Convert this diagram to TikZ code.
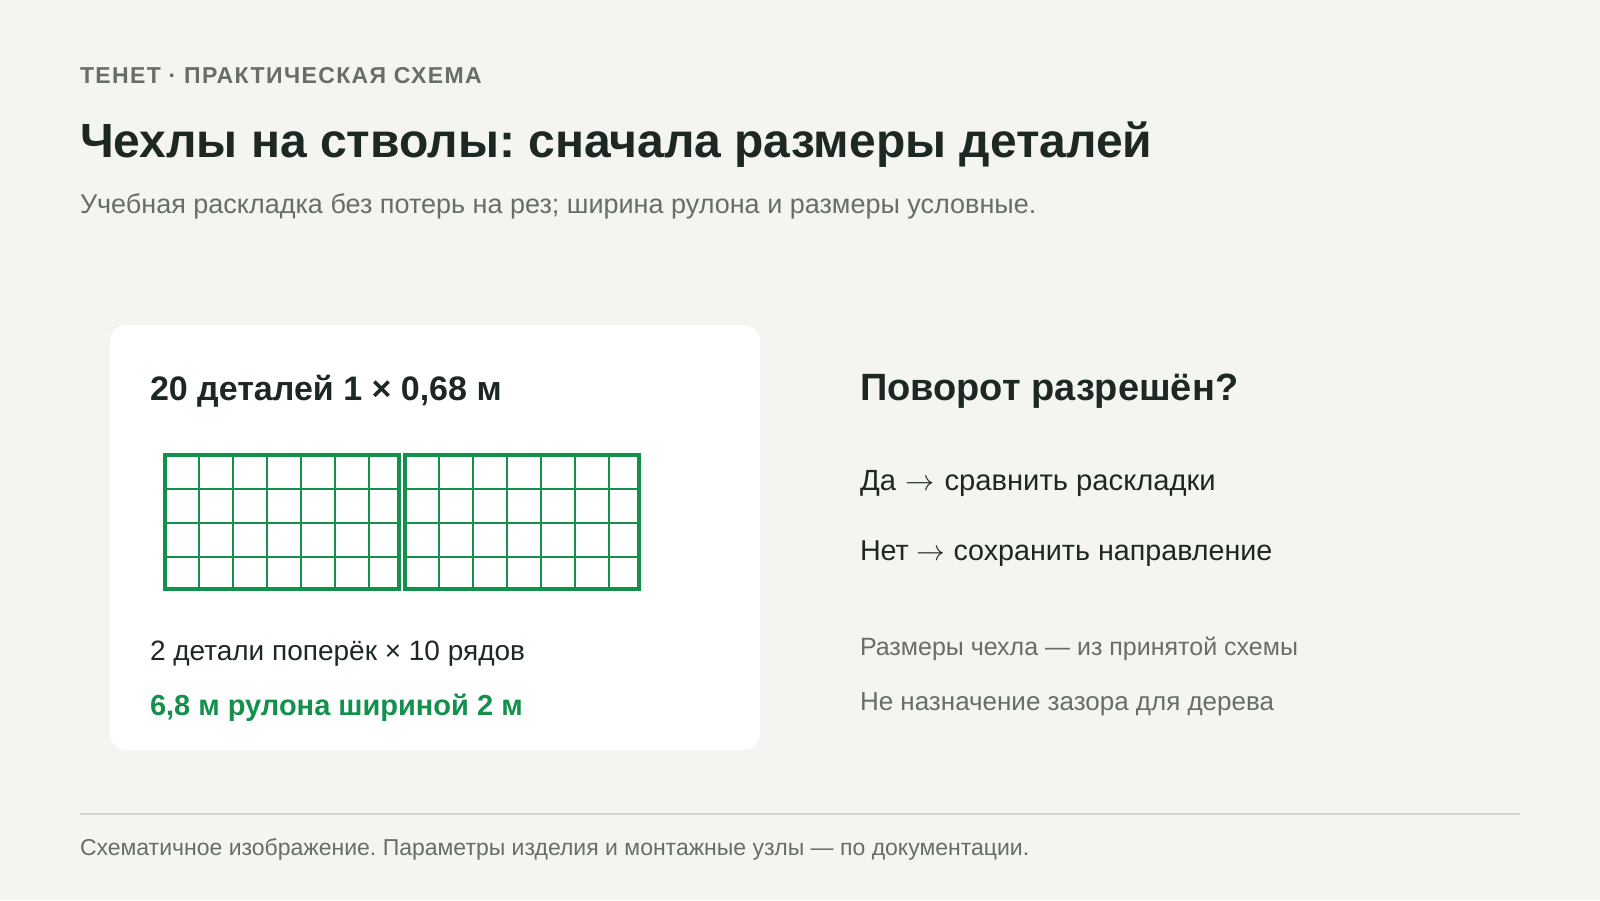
\RequirePackage{fix-cm}
\documentclass[tikz,border=0pt]{standalone}
\usepackage{fontspec}
\setmainfont{Liberation Sans}
\frenchspacing
\definecolor{bgcol}{HTML}{F4F5F0}
\definecolor{darktxt}{HTML}{1E2822}
\definecolor{graytxt}{HTML}{676E66}
\definecolor{lightgray}{HTML}{D3D6CF}
\definecolor{meshgreen}{HTML}{13904B}
\newcommand{\arr}{\ensuremath{\rightarrow}}
\tikzset{
  txt/.style={anchor=base west, inner sep=0pt, outer sep=0pt},
  headerstyle/.style={txt, text=graytxt, font=\bfseries\fontsize{23}{26}\selectfont\addfontfeatures{LetterSpace=6}},
  titlestyle/.style={txt, text=darktxt, font=\bfseries\fontsize{48}{52}\selectfont},
  subtitlestyle/.style={txt, text=graytxt, font=\fontsize{27}{30}\selectfont},
  cardtitle/.style={txt, text=darktxt, font=\bfseries\fontsize{34}{36}\selectfont},
  bodytxt/.style={txt, text=darktxt, font=\fontsize{28}{30}\selectfont},
  greentxt/.style={txt, text=meshgreen, font=\bfseries\fontsize{29}{30}\selectfont},
  qtitle/.style={txt, text=darktxt, font=\bfseries\fontsize{38}{40}\selectfont},
  answer/.style={txt, text=darktxt, font=\fontsize{28.7}{31}\selectfont},
  note/.style={txt, text=graytxt, font=\fontsize{25.5}{27}\selectfont},
  footnote/.style={txt, text=graytxt, font=\fontsize{23}{26}\selectfont},
  cardbox/.style={fill=white, rounded corners=16pt},
  piece/.style={draw=meshgreen, line width=4pt},
  meshline/.style={draw=meshgreen, line width=2.5pt},
}
\begin{document}
\begin{tikzpicture}[x=1pt,y=-1pt]
\fill[bgcol] (0,0) rectangle (1600,900);
\useasboundingbox (0,0) rectangle (1600,900);

% header
\node[headerstyle] (header) at (80,83) {ТЕНЕТ · ПРАКТИЧЕСКАЯ СХЕМА};
\node[titlestyle] (title) at (80,157) {Чехлы на стволы: сначала размеры деталей};
\node[subtitlestyle] (subtitle) at (80,213) {Учебная раскладка без потерь на рез; ширина рулона и размеры условные.};

% card
\fill[cardbox] (110,325) rectangle (760,750);
\node[cardtitle] (ctitle) at (150,400) {20 деталей 1 × 0,68 м};

% mesh pieces
\foreach \x in {165,405}{
  \foreach \k in {1,...,6}{
    \draw[meshline] (\x+34*\k,455) -- (\x+34*\k,589);
  }
  \foreach \k in {1,2,3}{
    \draw[meshline] (\x,455+34*\k) -- (\x+234,455+34*\k);
  }
  \draw[piece] (\x,455) rectangle (\x+234,589);
}

\node[bodytxt] (across) at (150,660) {2 детали поперёк × 10 рядов};
\node[greentxt] (roll) at (150,715) {6,8 м рулона шириной 2 м};

% right column
\node[qtitle] (question) at (860,400) {Поворот разрешён?};
\node[answer, font=\fontsize{29.2}{31}\selectfont] (yes) at (860,490) {Да\hspace{0.33em}\arr\hspace{0.33em}сравнить раскладки};
\node[answer] (no) at (860,560) {Нет \arr{} сохранить направление};
\node[note, font=\fontsize{25}{27}\selectfont] (note1) at (860,655) {Размеры чехла — из принятой схемы};
\node[note, font=\fontsize{26}{27}\selectfont] (note2) at (860,710) {Не назначение зазора для дерева};

% footer
\draw[lightgray, line width=2pt] (80,814) -- (1520,814);
\node[footnote] (foot) at (80,855) {Схематичное изображение. Параметры изделия и монтажные узлы — по документации.};
\end{tikzpicture}
\end{document}
